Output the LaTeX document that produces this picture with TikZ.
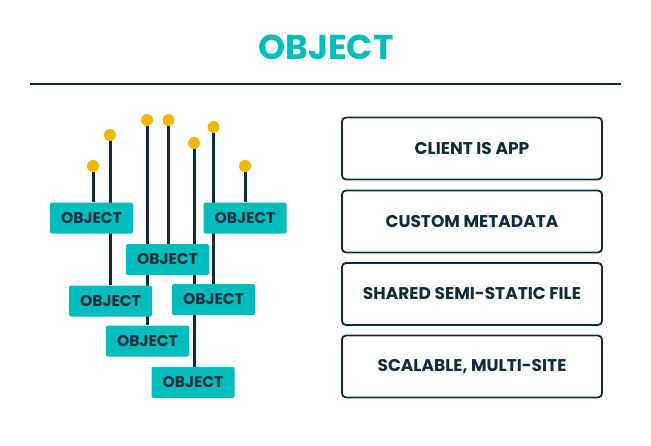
\documentclass[tikz,border=0pt]{standalone}
\usepackage{fontspec}
\setmainfont{Poppins}
\usepackage{xcolor}
\usetikzlibrary{backgrounds}
\definecolor{obj-teal}{RGB}{0, 189, 189}
\definecolor{obj-navy}{RGB}{14, 45, 60}
\definecolor{obj-gold}{RGB}{242, 183, 5}

\begin{document}
\begin{tikzpicture}[
  x=1pt, y=-1pt,
  objbox/.style={rectangle, fill=obj-teal, rounded corners=2pt, minimum width=83pt, minimum height=31pt, inner sep=0pt, font=\bfseries\fontsize{15.5}{18}\selectfont, text=obj-navy},
  featbox/.style={rectangle, draw=obj-navy, line width=1.8pt, rounded corners=4pt, minimum width=260pt, minimum height=62pt, inner sep=0pt, font=\bfseries\fontsize{17}{20}\selectfont, text=obj-navy},
  pin/.style={circle, fill=obj-gold, minimum size=12pt, inner sep=0pt},
  wire/.style={draw=obj-navy, line width=3pt}
]
  \useasboundingbox (0,0) rectangle (651,445);

  % title and rule
  \node[font=\bfseries\fontsize{34.5}{40}\selectfont, text=obj-teal] (title) at (326,47) {OBJECT};
  \draw[obj-navy, line width=2pt] (30,83.5) -- (621,83.5);

  % object boxes
  \node[objbox] (objA) at (91.5,218) {OBJECT};
  \node[objbox] (objB) at (245,218) {OBJECT};
  \node[objbox] (objC) at (167.5,259.5) {OBJECT};
  \node[objbox] (objD) at (110.5,301) {OBJECT};
  \node[objbox] (objE) at (213.5,299.5) {OBJECT};
  \node[objbox] (objF) at (147.5,341) {OBJECT};
  \node[objbox] (objG) at (193,382.5) {OBJECT};

  % pins
  \node[pin] (pinA) at (93,166) {};
  \node[pin] (pinB) at (110,135) {};
  \node[pin] (pinC) at (147,120) {};
  \node[pin] (pinD) at (168.5,120) {};
  \node[pin] (pinE) at (194,143) {};
  \node[pin] (pinF) at (213.5,127) {};
  \node[pin] (pinG) at (245,166) {};

  \begin{scope}[on background layer]
    \draw[wire] (pinA.center) -- (pinA |- objA.north);
    \draw[wire] (pinB.center) -- (pinB |- objD.north);
    \draw[wire] (pinC.center) -- (pinC |- objF.north);
    \draw[wire] (pinD.center) -- (pinD |- objC.north);
    \draw[wire] (pinE.center) -- (pinE |- objG.north);
    \draw[wire] (pinF.center) -- (pinF |- objE.north);
    \draw[wire] (pinG.center) -- (pinG |- objB.north);
  \end{scope}

  % feature list
  \node[featbox] (client) at (472,148.5) {CLIENT IS APP};
  \node[featbox] (meta) at (472,221.5) {CUSTOM METADATA};
  \node[featbox] (shared) at (472,294) {SHARED SEMI-STATIC FILE};
  \node[featbox] (scale) at (472,366.5) {SCALABLE, MULTI-SITE};
\end{tikzpicture}
\end{document}
